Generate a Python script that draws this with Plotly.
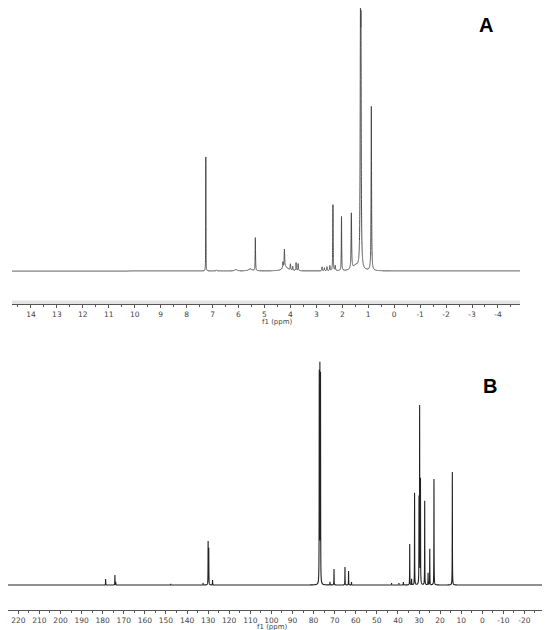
import numpy as np
import plotly.graph_objects as go

# 1H spectrum (A): peak shifts (ppm), heights (arb.), half-widths (ppm)
h_shift = [7.26, 6.85, 6.10, 5.55, 5.35, 4.29, 4.23, 4.20, 4.00, 3.91, 3.78, 3.70,
           2.78, 2.69, 2.59, 2.48, 2.36, 2.27, 2.03, 1.65, 1.48, 1.30, 1.28, 0.88]
h_height = [114, 1, 1.5, 2, 33, 6, 18, 4, 6, 4, 8, 7,
            4, 3, 4, 5, 66, 5, 54, 56, 5, 210, 200, 164]
h_width = [0.004, 0.02, 0.05, 0.08, 0.008, 0.01, 0.012, 0.12, 0.01, 0.01, 0.01, 0.01,
           0.01, 0.01, 0.01, 0.01, 0.008, 0.01, 0.008, 0.012, 0.12, 0.012, 0.012, 0.01]

# 13C spectrum (B)
c_shift = [178.6, 174.2, 173.8, 147.7, 132.4, 130.0, 129.7, 127.9,
           77.3, 77.0, 76.7, 72.2, 70.3, 65.1, 63.4, 62.0,
           43.0, 39.5, 37.4, 34.4, 33.5, 32.1, 30.0, 29.7, 29.3,
           27.3, 25.7, 24.9, 22.9, 14.2]
c_height = [6, 10, 3, 1, 2, 43, 36, 5,
            208, 212, 206, 3, 16, 18, 14, 3,
            2, 2, 3, 41, 6, 92, 84, 176, 104,
            84, 12, 36, 106, 113]
c_width = 0.05

h_ticks = list(range(14, -5, -1))
c_ticks = list(range(220, -31, -10))

h_range = [14.73, -4.85]
c_range = [224.9, -28.8]


def spectrum(lo, hi, step, shifts, heights, widths):
    x = np.union1d(np.arange(lo, hi, step), shifts)
    y = np.zeros_like(x)
    for p, h, w in zip(shifts, heights, np.broadcast_to(widths, len(shifts))):
        y += h * w**2 / ((x - p)**2 + w**2)
    return x, y


hx, hy = spectrum(h_range[1], h_range[0], 0.001, h_shift, h_height, h_width)
cx, cy = spectrum(c_range[1], c_range[0], 0.02, c_shift, c_height, c_width)

fig = go.Figure()
fig.add_trace(go.Scatter(x=hx, y=hy, mode="lines",
                         line=dict(color="#4a4a4a", width=1, simplify=False),
                         xaxis="x", yaxis="y", hoverinfo="skip"))
fig.add_trace(go.Scatter(x=cx, y=cy, mode="lines",
                         line=dict(color="#222222", width=1.1, simplify=False),
                         xaxis="x2", yaxis="y2", hoverinfo="skip"))

W, H = 550, 630
OFF = 8  # page body margin shifts the plot by this many pixels


def px(v):
    return min(1, max(0, (v - OFF) / W))


def py(v):
    return min(1, max(0, 1 - (v - OFF) / H))


tickfont = dict(family="DejaVu Sans", size=7.5, color="#444444")
axis_common = dict(showline=True, linecolor="#555555", linewidth=1, ticks="outside",
                   ticklen=3, tickcolor="#555555", tickfont=tickfont, showgrid=False,
                   zeroline=False)

fig.update_layout(
    width=W, height=H, margin=dict(l=0, r=0, t=0, b=0),
    paper_bgcolor="white", plot_bgcolor="white", showlegend=False,
    xaxis=dict(domain=[px(12), px(520)], range=h_range, anchor="y",
               tickmode="array", tickvals=h_ticks, ticktext=[str(t) for t in h_ticks],
               minor=dict(dtick=0.5, tick0=0, ticks="outside", ticklen=2, tickcolor="#555555"),
               **axis_common),
    yaxis=dict(domain=[py(304), py(8)], range=[-33, 263], visible=False),
    xaxis2=dict(domain=[px(8), px(543)], range=c_range, anchor="y2",
                tickmode="array", tickvals=c_ticks, ticktext=[str(t) for t in c_ticks],
                minor=dict(dtick=5, tick0=0, ticks="outside", ticklen=2, tickcolor="#555555"),
                **axis_common),
    yaxis2=dict(domain=[py(610), py(340)], range=[-25, 245], visible=False),
)

# light band above the 1H axis
fig.add_shape(type="rect", xref="paper", yref="paper",
              x0=px(12), x1=px(520), y0=py(304), y1=py(300.5),
              fillcolor="#e4e4e4", line_width=0, layer="below")

for x, y, t in [(277, 321.5, "f1 (ppm)"), (272, 627, "f1 (ppm)")]:
    fig.add_annotation(x=px(x), y=py(y), xref="paper", yref="paper", text=t,
                       xanchor="center", yanchor="middle", showarrow=False,
                       font=dict(family="DejaVu Sans", size=7, color="#444444"))

for x, y, t in [(486, 25, "A"), (490, 386, "B")]:
    fig.add_annotation(x=px(x), y=py(y), xref="paper", yref="paper", text="<b>%s</b>" % t,
                       xanchor="center", yanchor="middle", showarrow=False,
                       font=dict(family="Liberation Sans", size=20, color="black"))

fig.write_html("out.html")
